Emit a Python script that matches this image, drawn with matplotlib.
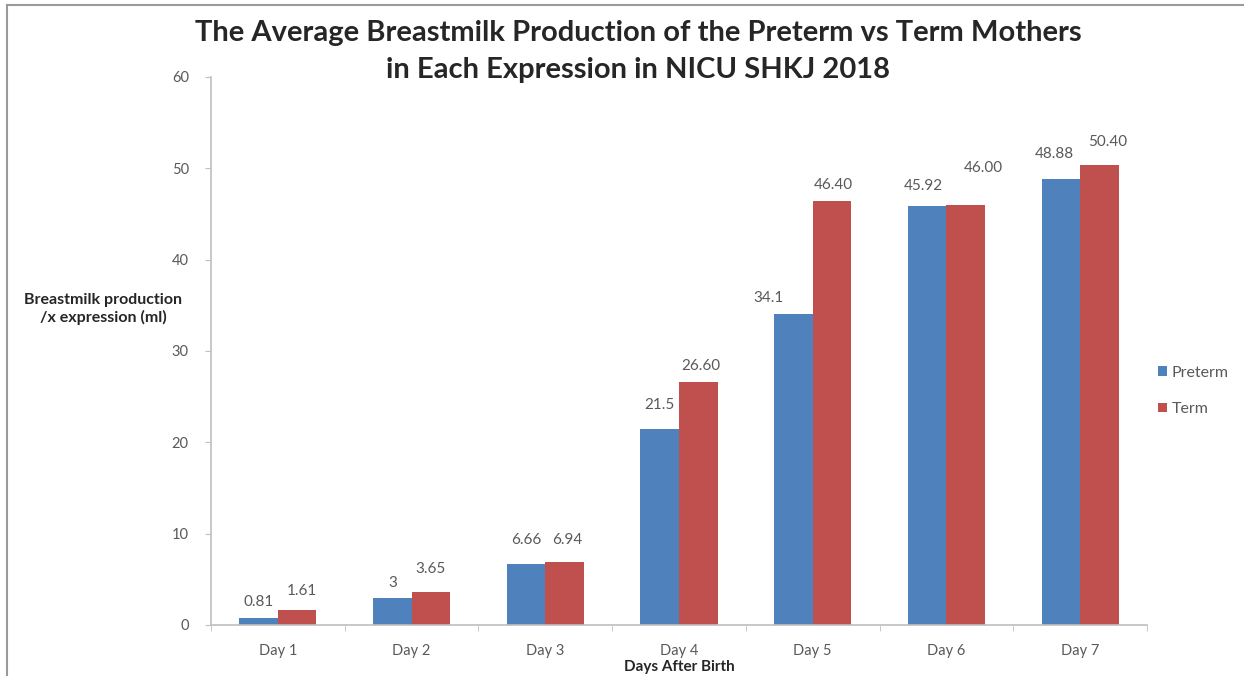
import matplotlib
matplotlib.use("Agg")
import matplotlib.pyplot as plt
import numpy as np
from matplotlib.lines import Line2D

plt.rcParams["font.family"] = ["Lato", "DejaVu Sans"]

# ---- data ---------------------------------------------------------------
days = ["Day 1", "Day 2", "Day 3", "Day 4", "Day 5", "Day 6", "Day 7"]
preterm = [0.81, 3, 6.66, 21.5, 34.1, 45.92, 48.88]
term = [1.61, 3.65, 6.94, 26.60, 46.40, 46.00, 50.40]
preterm_lbl = ["0.81", "3", "6.66", "21.5", "34.1", "45.92", "48.88"]
term_lbl = ["1.61", "3.65", "6.94", "26.60", "46.40", "46.00", "50.40"]

# label nudges (pixels) to follow the hand-placed labels of the original
pre_off = [(0, 16), (0, 15), (0, 24), (0, 24), (-25, 16), (-4, 20), (-7, 25)]
term_off = [(5, 19), (0, 23), (3, 22), (3, 16), (1, 16), (18, 37), (8, 23)]

BLUE = "#4F81BD"
RED = "#C0504D"
AXC = "#BFBFBF"
TXT = "#595959"
INK = "#262626"

fig = plt.figure(figsize=(12.44, 6.76), dpi=100)
ax = fig.add_axes((211 / 1244, 51 / 676, 936 / 1244, 548 / 676))

x = np.arange(len(days))
w = 0.288
ax.bar(x - w / 2, preterm, w, color=BLUE, label="Preterm")
ax.bar(x + w / 2, term, w, color=RED, label="Term")

for i in range(len(days)):
    ax.annotate(preterm_lbl[i], (x[i] - w / 2, preterm[i]), xytext=pre_off[i],
                textcoords="offset pixels", ha="center", va="center",
                fontsize=11, color=TXT)
    ax.annotate(term_lbl[i], (x[i] + w / 2, term[i]), xytext=term_off[i],
                textcoords="offset pixels", ha="center", va="center",
                fontsize=11, color=TXT)

ax.set_xlim(-0.5, len(days) - 0.5)
ax.set_ylim(0, 60)
ax.set_yticks(range(0, 61, 10))
ax.set_xticks(x)
ax.set_xticklabels(days)
ax.set_xticks(np.arange(-0.5, len(days)), minor=True)

for s in ("top", "right"):
    ax.spines[s].set_visible(False)
for s in ("left", "bottom"):
    ax.spines[s].set_color(AXC)
    ax.spines[s].set_linewidth(1.2)

ax.tick_params(axis="y", direction="out", length=4, color=AXC, pad=12,
               labelsize=10.5, labelcolor=TXT)
ax.tick_params(axis="x", which="major", length=0, pad=14,
               labelsize=10.5, labelcolor=TXT)
ax.tick_params(axis="x", which="minor", direction="out", length=4, color=AXC)

ax.set_xlabel("Days After Birth", fontsize=11, fontweight="bold",
              color=INK, labelpad=1)

fig.text(103 / 1244, 1 - 309 / 676, "Breastmilk production\n/x expression (ml)",
         ha="center", va="center", fontsize=11.5, fontweight="bold",
         color=INK, linespacing=1.3)

fig.text(638 / 1244, 1 - 33 / 676,
         "The Average Breastmilk Production of the Preterm vs Term Mothers",
         ha="center", va="center", fontsize=21, fontweight="bold", color=INK)
fig.text(638 / 1244, 1 - 70 / 676, "in Each Expression in NICU SHKJ 2018",
         ha="center", va="center", fontsize=21, fontweight="bold", color=INK)

leg = fig.legend(handles=ax.patches[:1] + ax.patches[len(days):len(days) + 1],
                 labels=["Preterm", "Term"], loc="center left",
                 bbox_to_anchor=(1144 / 1244, 1 - 391 / 676), frameon=False,
                 fontsize=11.5, handlelength=0.55, handleheight=0.55,
                 handletextpad=0.3, labelspacing=1.4, labelcolor=TXT)

# outer frame (top and left edges of the screenshot)
fig.add_artist(Line2D([7 / 1244, 7 / 1244], [0, 1 - 5 / 676], color="#9A9A9A",
                      lw=1.5, transform=fig.transFigure))
fig.add_artist(Line2D([7 / 1244, 1], [1 - 5 / 676, 1 - 5 / 676], color="#9A9A9A",
                      lw=1.5, transform=fig.transFigure))

fig.savefig("out.png", dpi=100)
